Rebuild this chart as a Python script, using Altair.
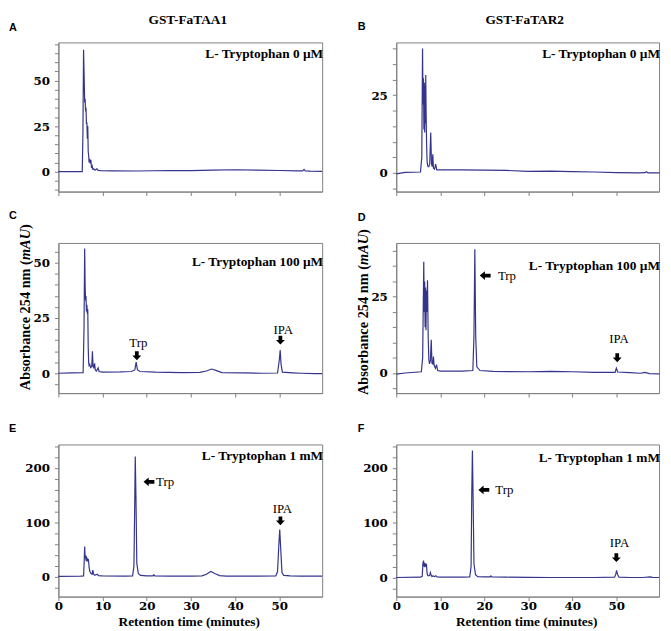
import altair as alt
import pandas as pd

# ---------------- data ----------------
# Panel A: GST-FaTAA1, L-Tryptophan 0 uM
a_time = [0, 3, 5.4, 5.55, 5.7,
          5.85, 5.95, 6.05, 6.15, 6.25,
          6.35, 6.45, 6.55, 6.65, 6.75,
          6.85, 6.95, 7.05, 7.2, 7.35,
          7.5, 7.65, 7.8, 8.0, 8.3,
          8.7, 9.0, 9.5, 12, 18,
          25, 30, 35, 40, 45,
          50, 54, 55.3, 55.6, 55.9,
          57, 59.7]
a_abs = [0, 0, 0, 20, 67,
         50, 38, 40, 33, 35,
         26, 27, 18, 25, 11,
         9, 5, 7, 4.5, 6.5,
         2, 3, 1.2, 1.5, 0.8,
         1.5, 0.6, 0.5, 0.4, 0.3,
         0.6, 0.5, 0.8, 1.0, 0.8,
         0.6, 0.4, 0.4, 1.2, 0.3,
         0.2, 0.1]

# Panel B: GST-FaTAR2, L-Tryptophan 0 uM
b_time = [0, 2, 5.5, 5.8, 5.97,
          6.08, 6.18, 6.28, 6.38, 6.46,
          6.54, 6.62, 6.7, 6.78, 6.88,
          7.0, 7.1, 7.25, 7.4, 7.6,
          7.83, 8.0, 8.15, 8.3, 8.45,
          8.7, 8.95, 9.2, 10, 15,
          20, 25, 30, 35, 40,
          45, 50, 55, 56.5, 56.8,
          57.2, 59.8]
b_abs = [-0.3, 0.2, 0.3, 5, 40,
         22, 30.5, 14, 29, 13,
         28, 16, 31.5, 20, 10,
         4, 2.5, 2, 2, 3,
         13, 3, 2, 6, 1.5,
         1.2, 2.8, 1, 1, 1,
         0.9, 0.8, 0.5, 0.6, 0.4,
         0.3, 0.1, 0, 0.1, 0.4,
         0, 0]

# Panel C: GST-FaTAA1, L-Tryptophan 100 uM
c_time = [0, 3, 5.6, 5.8, 5.95,
          6.05, 6.15, 6.25, 6.35, 6.45,
          6.55, 6.65, 6.75, 6.85, 6.95,
          7.1, 7.3, 7.55, 7.7, 7.85,
          8.0, 8.2, 8.35, 8.6, 9.0,
          9.2, 10, 14, 16.5, 17.3,
          17.6, 17.9, 18.5, 22, 28,
          32, 33.5, 34.7, 35.8, 37,
          42, 46, 49.6, 50.0, 50.2,
          50.4, 50.7, 53, 55, 58,
          59.7]
c_abs = [0, 0.2, 0.3, 20, 56.5,
         40, 33, 35, 28, 31,
         27, 29, 12, 5, 3.5,
         4, 2.5, 3, 10, 3,
         2.5, 4.5, 1.5, 1, 2.4,
         0.8, 0.5, 0.6, 0.8, 1.5,
         5, 1.5, 0.8, 0.5, 0.3,
         0.4, 1, 1.9, 1.2, 0.3,
         0.2, 0, 0.1, 6, 10.5,
         4, 0.5, 0.2, 0, -0.2,
         -0.2]

# Panel D: GST-FaTAR2, L-Tryptophan 100 uM
d_time = [0, 2, 5.7, 6.0, 6.25,
          6.35, 6.45, 6.55, 6.65, 6.75,
          6.85, 6.95, 7.1, 7.25, 7.4,
          7.55, 7.75, 7.95, 8.1, 8.3,
          8.45, 8.6, 8.9, 9.15, 9.4,
          10, 15, 17.4, 17.65, 17.85,
          18.05, 18.3, 19, 22, 30,
          35, 40, 45, 49.7, 50.0,
          50.3, 53, 55.5, 56.5, 57.5,
          59.8]
d_abs = [-0.4, 0, 0.4, 5, 36.4,
         20, 30, 15, 28, 14,
         27, 20, 30.4, 12, 4.4,
         3, 4, 10.9, 3.3, 3,
         5.4, 2.5, 1.5, 2.7, 0.8,
         0.6, 0.6, 0.8, 12, 40.5,
         12, 2, 0.8, 0.5, 0.4,
         0.5, 0.4, 0.2, 0.2, 1.6,
         0.3, 0.1, -0.1, 0.2, -0.2,
         -0.3]

# Panel E: GST-FaTAA1, L-Tryptophan 1 mM
e_time = [0, 5, 5.7, 5.85, 5.95,
          6.05, 6.15, 6.25, 6.35, 6.5,
          6.65, 6.8, 6.95, 7.1, 7.25,
          7.45, 7.65, 7.8, 7.95, 8.2,
          8.5, 8.8, 9.1, 10, 15,
          16.8, 17.1, 17.3, 17.4, 17.55,
          17.75, 18.1, 18.6, 20, 21.4,
          21.6, 21.8, 25, 30, 32.5,
          33.5, 34.5, 35.5, 36.5, 38,
          45, 49.2, 49.6, 49.9, 50.1,
          50.3, 50.6, 51, 52.5, 55,
          59.7]
e_abs = [1, 1.5, 2, 30, 56,
         35, 40, 30, 38, 28,
         33, 32, 18, 11, 8,
         6, 5, 12.7, 6, 3,
         4, 5, 2.5, 2, 1.5,
         2, 20, 150, 221, 150,
         25, 6, 3, 2, 2,
         4, 2, 1.5, 1.5, 2,
         5, 10, 6, 2.5, 1.5,
         1.5, 2, 10, 60, 87,
         55, 8, 3, 2, 1.5,
         1.5]

# Panel F: GST-FaTAR2, L-Tryptophan 1 mM
f_time = [0, 5.5, 5.9, 6.05, 6.2,
          6.3, 6.4, 6.5, 6.6, 6.7,
          6.85, 7.0, 7.15, 7.4, 7.6,
          7.75, 7.9, 8.1, 8.4, 8.7,
          9.0, 9.3, 10, 15, 16.7,
          17.0, 17.15, 17.3, 17.45, 17.65,
          18.0, 18.5, 20, 21.3, 21.5,
          21.7, 25, 30, 35, 40,
          45, 49.6, 49.9, 50.05, 50.25,
          50.6, 53, 56, 57.7, 58.2,
          59.7]
f_abs = [0, 0.5, 2, 25, 31,
         20, 27, 19, 26, 20,
         25, 8, 3.7, 3, 4,
         9, 5, 2, 3, 1.5,
         3, 1, 0.8, 0.8, 1,
         20, 150, 232, 150, 25,
         5, 1.5, 1, 1, 3,
         1, 0.5, 0.2, 0, 0,
         0, 0.5, 7, 13, 6,
         0.5, 0, 0, 1.2, 0.2,
         0]

conditions = ["L- Tryptophan 0 µM", "L- Tryptophan 0 µM",
              "L- Tryptophan 100 µM", "L- Tryptophan 100 µM",
              "L- Tryptophan 1 mM", "L- Tryptophan 1 mM"]
column_titles = ["GST-FaTAA1", "GST-FaTAR2"]
panel_letters = ["A", "B", "C", "D", "E", "F"]
x_tick_values = [0, 10, 20, 30, 40, 50]

# ---------------- styling ----------------
LINE = "#34348c"
SERIF = "Liberation Serif"
TICKFONT = "DejaVu Serif"
SANS = "Liberation Sans"
GRAY = "#808080"
X_DOMAIN = [0, 59.7]
ARROW_DOWN = "M-0.42,-1L0.42,-1L0.42,-0.05L1,-0.05L0,1L-1,-0.05L-0.42,-0.05Z"
ARROW_LEFT = "M1,-0.33L1,0.33L-0.05,0.33L-0.05,0.82L-1,0L-0.05,-0.82L-0.05,-0.33Z"

ONE = pd.DataFrame({"k": [0]})


def fixed_text(txt, x, y, size, font=SERIF, weight="bold", align="left",
               baseline="middle", angle=0, style="normal"):
    kw = dict(text=txt, font=font, fontSize=size, fontWeight=weight,
              align=align, baseline=baseline, fontStyle=style, color="black")
    if angle:
        kw["angle"] = angle
    return alt.Chart(ONE).mark_text(**kw).encode(x=alt.value(x), y=alt.value(y))


def panel(t, a, ydom, yticks, ymajor, w, h, cond, cond_y, letter, lx, ly,
          col_title=None, ytitle=None, xlabels=False,
          down=(), left=(), notes=()):
    xs = alt.Scale(domain=X_DOMAIN, nice=False, zero=False)
    ys = alt.Scale(domain=ydom, nice=False, zero=False)
    xaxis = alt.Axis(values=x_tick_values, labels=xlabels, title=None, grid=False,
                     tickSize=4, labelPadding=0, labelFont=TICKFONT, labelFontSize=12,
                     labelFontWeight="bold", labelColor="black", domainColor=GRAY,
                     tickColor=GRAY, labelFlush=False, labelOverlap=False)
    yaxis = alt.Axis(values=yticks,
                     labelExpr=f"datum.value % {ymajor} === 0 ? datum.label : ''",
                     title=None, grid=False, tickSize=4, labelPadding=5,
                     labelFont=TICKFONT, labelFontSize=12, labelFontWeight="bold",
                     labelColor="black", domainColor=GRAY, tickColor=GRAY,
                     labelFlush=False, labelOverlap=False)
    X = alt.X("t:Q", scale=xs, axis=xaxis)
    Y = alt.Y("a:Q", scale=ys, axis=yaxis)
    df = pd.DataFrame({"t": t, "a": a})
    layers = [alt.Chart(df).mark_line(color=LINE, strokeWidth=1.2).encode(x=X, y=Y)]
    for shape, pts, size in ((ARROW_DOWN, down, 81), (ARROW_LEFT, left, 121)):
        if pts:
            adf = pd.DataFrame({"t": [p[0] for p in pts], "a": [p[1] for p in pts]})
            layers.append(alt.Chart(adf).mark_point(
                shape=shape, filled=True, size=size, color="black", opacity=1,
                strokeWidth=0).encode(x=X, y=Y))
    for nt, na, txt, align in notes:
        ndf = pd.DataFrame({"t": [nt], "a": [na], "txt": [txt]})
        layers.append(alt.Chart(ndf).mark_text(
            font=SERIF, fontSize=13, align=align, baseline="middle", color="black").encode(
            x=X, y=Y, text="txt:N"))
    layers.append(fixed_text(cond, w + 1, cond_y, 13.5, align="right"))
    layers.append(fixed_text(letter, lx, ly, 11, font=SANS))
    if col_title:
        layers.append(fixed_text(col_title[0], col_title[1], -23, 13.5, align="center"))
    if ytitle:
        tx, cy = ytitle
        size = 14.5
        start = cy + 84
        w1 = 9083 * size / 1000
        w2 = 2167 * size / 1000
        layers.append(fixed_text("Absorbance 254 nm (", tx, start, size, angle=270))
        layers.append(fixed_text("mAU", tx, start - w1, size, angle=270, style="italic"))
        layers.append(fixed_text(")", tx, start - w1 - w2, size, angle=270))
    if xlabels:
        layers.append(fixed_text("Retention time (minutes)", w / 2 - 1, h + 25.5, 13.5,
                                 align="center"))
    return alt.layer(*layers).properties(width=w, height=h)


pA = panel(a_time, a_abs, [-11, 71], list(range(-10, 71, 5)), 25, 267, 151,
           conditions[0], 12, panel_letters[0], -50, -15,
           col_title=(column_titles[0], 131))
pB = panel(b_time, b_abs, [-6, 42], list(range(-5, 41, 5)), 25, 266, 151,
           conditions[1], 12, panel_letters[1], -39, -16,
           col_title=(column_titles[1], 130))
pC = panel(c_time, c_abs, [-9, 59], list(range(-5, 56, 5)), 25, 267, 152,
           conditions[2], 19, panel_letters[2], -50, -27,
           ytitle=(-33, 65),
           down=[(17.75, 7.9), (50.25, 15)],
           notes=[(18.1, 13.5, "Trp", "center"), (50.9, 19.5, "IPA", "center")])
pD = panel(d_time, d_abs, [-6.6, 42.6], list(range(-5, 41, 5)), 25, 266, 152,
           conditions[3], 23, panel_letters[3], -39, -25,
           ytitle=(-32.5, 70),
           down=[(50.2, 5.0)], left=[(20.2, 31.9)],
           notes=[(23.1, 31.8, "Trp", "left"), (50.6, 11.2, "IPA", "center")])
pE = panel(e_time, e_abs, [-36, 243], list(range(-20, 241, 20)), 100, 267, 154,
           conditions[4], 12, panel_letters[4], -50, -16, xlabels=True,
           down=[(50.25, 103)], left=[(20.5, 174.5)],
           notes=[(22.1, 174.5, "Trp", "left"), (50.7, 125.5, "IPA", "center")])
pF = panel(f_time, f_abs, [-35, 243], list(range(-20, 241, 20)), 100, 266, 154,
           conditions[5], 14, panel_letters[5], -39, -16, xlabels=True,
           down=[(50.0, 36.2)], left=[(19.9, 160)],
           notes=[(22.5, 160, "Trp", "left"), (50.7, 63.5, "IPA", "center")])

chart = alt.concat(pA, pB, pC, pD, pE, pF, columns=2,
                   spacing={"row": 52, "column": 75}, bounds="flush",
                   padding=0).configure_view(stroke=GRAY, strokeWidth=1)

chart.save("out.html", embed_options={"renderer": "svg", "actions": False})
